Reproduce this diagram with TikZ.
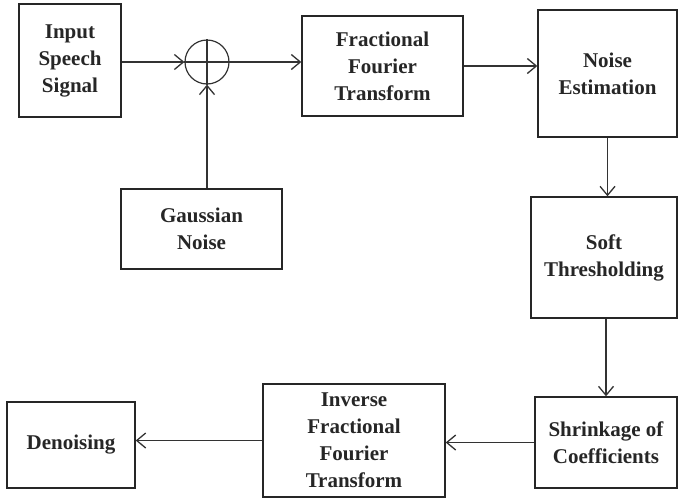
\documentclass[tikz,border=0pt]{standalone}
\usepackage{fontspec}
\setmainfont{Liberation Serif}
\usetikzlibrary{arrows.meta}

\tikzset{
  blk/.style={draw=black!85, line width=1.4pt, inner sep=0pt, align=center,
    font=\fontsize{21}{27}\selectfont\bfseries, text=black!85},
  arr/.style={draw=black!80, line width=1.2pt,
    -{Straight Barb[length=9pt,width=15pt,line width=1.3pt]}},
}

\begin{document}
\begin{tikzpicture}[x=1pt,y=-1pt]
    \useasboundingbox (0,0) rectangle (679,501);
    \node[blk, minimum width=102pt, minimum height=113pt] (inp) at (70,60.5)
      {Input\\Speech\\Signal};
    \node[draw=black!80, line width=1.2pt, circle, minimum size=44pt,
      inner sep=0pt] (sum) at (207,62) {};
    \node[blk, minimum width=161pt, minimum height=100pt] (frft) at (382.5,66)
      {Fractional\\Fourier\\Transform};
    \node[blk, minimum width=139pt, minimum height=127pt] (est) at (607.5,73.5)
      {Noise\\Estimation};
    \node[blk, minimum width=161pt, minimum height=80pt] (gauss) at (201.5,229)
      {Gaussian\\Noise};
    \node[blk, minimum width=146pt, minimum height=121pt] (soft) at (604,257.5)
      {Soft\\Thresholding};
    \node[blk, minimum width=142pt, minimum height=91pt] (shrink) at (606,442.5)
      {Shrinkage of\\Coefficients};
    \node[blk, minimum width=182pt, minimum height=113pt] (ifrft) at (354,440.5)
      {Inverse\\Fractional\\Fourier\\Transform};
    \node[blk, minimum width=128pt, minimum height=86pt] (den) at (71,445)
      {Denoising};
    % plus sign inside the adder
    \draw[black!80, line width=1.2pt] (sum.north) -- (sum.south)
      (sum.west) -- (sum.east);
    \draw[arr] (inp.east |- sum.west) -- (sum.west);
    \draw[arr] (sum.east) -- (sum.east -| frft.west);
    \draw[arr] (gauss.north -| sum.south) -- (sum.south);
    \draw[arr] (frft.east) -- (frft.east -| est.west);
    \draw[arr] (est.south) -- (est.south |- soft.north);
    \draw[arr] (shrink.north |- soft.south) -- (shrink.north);
    \draw[arr] (shrink.west) -- (shrink.west -| ifrft.east);
    \draw[arr] (ifrft.west) -- (ifrft.west -| den.east);
  \end{tikzpicture}
\end{document}
